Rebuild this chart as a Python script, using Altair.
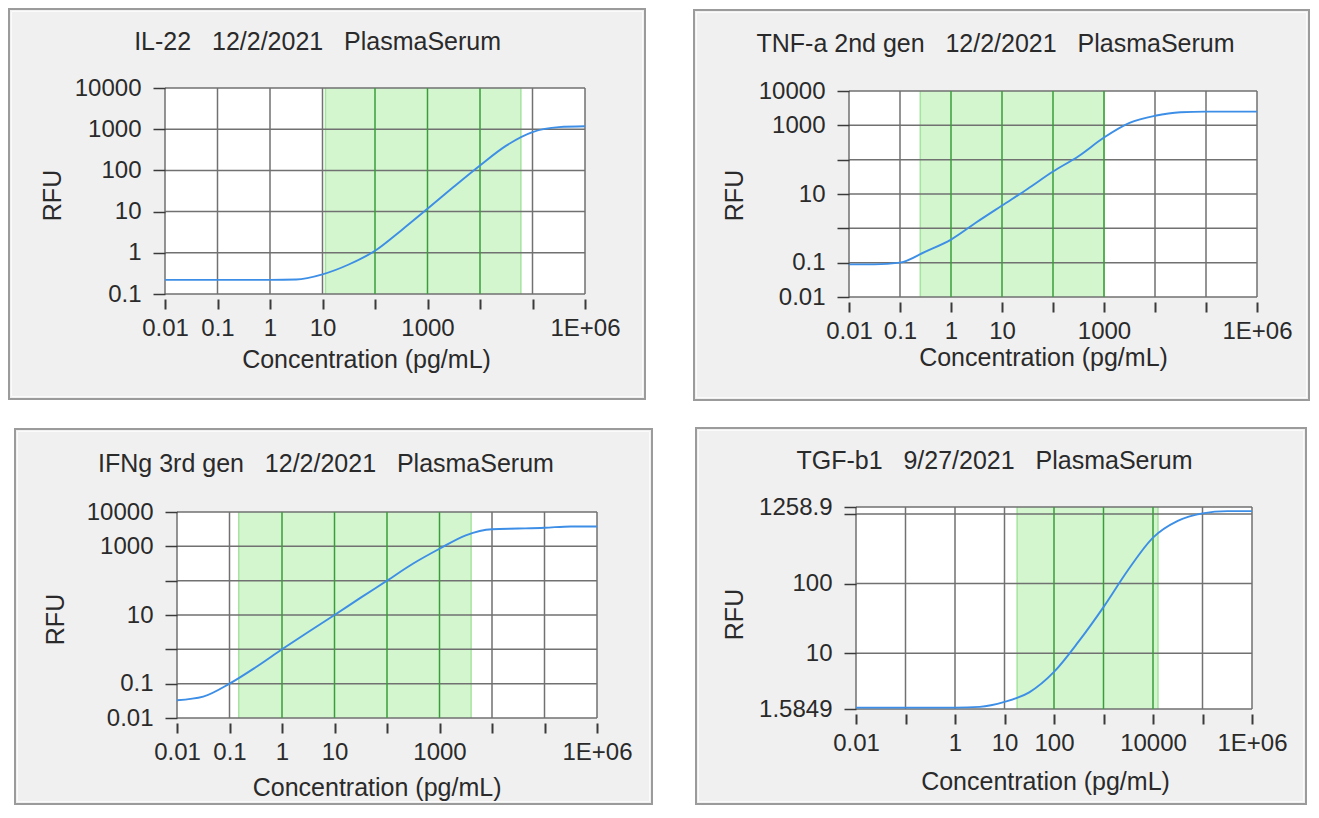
import altair as alt
import pandas as pd

# ---------------- data ----------------
X_TICKS = [0.01, 0.1, 1, 10, 100, 1000, 10000, 100000, 1000000]
CURVE_CONC = [0.01, 0.0316, 0.1, 0.316, 1, 3.16, 10, 31.6, 100, 316, 1000,
              3162, 10000, 31623, 100000, 316228, 1000000]

IL22_TITLE = "IL-22\u00a0\u00a0\u00a012/2/2021\u00a0\u00a0\u00a0PlasmaSerum"
IL22_X_LABELS = ["0.01", "0.1", "1", "10", "", "1000", "", "", "1E+06"]
IL22_Y_TICKS = [0.1, 1, 10, 100, 1000, 10000]
IL22_Y_LABELS = ["0.1", "1", "10", "100", "1000", "10000"]
IL22_GREEN = [11.4, 60000]
IL22_RFU = [0.22, 0.22, 0.22, 0.22, 0.22, 0.224, 0.30, 0.52, 1.12, 3.5, 11.7,
            40, 132, 400, 850, 1120, 1175]

TNF_TITLE = "TNF-a 2nd gen\u00a0\u00a0\u00a012/2/2021\u00a0\u00a0\u00a0PlasmaSerum"
TNF_X_LABELS = ["0.01", "0.1", "1", "10", "", "1000", "", "", "1E+06"]
TNF_Y_TICKS = [0.01, 0.1, 1, 10, 100, 1000, 10000]
TNF_Y_LABELS = ["0.01", "0.1", "", "10", "", "1000", "10000"]
TNF_GREEN = [0.25, 1000]
TNF_RFU = [0.089, 0.089, 0.1, 0.21, 0.47, 1.5, 4.6, 14, 45, 126, 440,
           1175, 1900, 2400, 2500, 2500, 2500]

IFN_TITLE = "IFNg 3rd gen\u00a0\u00a0\u00a012/2/2021\u00a0\u00a0\u00a0PlasmaSerum"
IFN_X_LABELS = ["0.01", "0.1", "1", "10", "", "1000", "", "", "1E+06"]
IFN_Y_TICKS = [0.01, 0.1, 1, 10, 100, 1000, 10000]
IFN_Y_LABELS = ["0.01", "0.1", "", "10", "", "1000", "10000"]
IFN_GREEN = [0.15, 4000]
IFN_RFU = [0.033, 0.042, 0.1, 0.30, 1.0, 3.2, 10, 32, 100, 316, 850,
           2100, 3160, 3300, 3470, 3800, 3800]

TGF_TITLE = "TGF-b1\u00a0\u00a0\u00a09/27/2021\u00a0\u00a0\u00a0PlasmaSerum"
TGF_X_LABELS = ["0.01", "", "1", "10", "100", "", "10000", "", "1E+06"]
TGF_Y_TICKS = [1.5849, 10, 100, 1000, 1258.9]
TGF_Y_LABELS = ["1.5849", "10", "100", "", "1258.9"]
TGF_GREEN = [18, 12600]
TGF_RFU = [1.66, 1.66, 1.66, 1.66, 1.66, 1.7, 2.0, 2.75, 5.4, 14.8, 46,
           158, 457, 795, 1020, 1100, 1100]

# ---------------- style / layout ----------------
FONT = "Liberation Sans"
TEXT = "#2a2a2a"
GRID = "#717171"
GRID_GREEN = "#3a9c3a"
EDGE_GREEN = "#a6e3a0"
FILL_GREEN = "#d3f6cf"
CURVE = "#3d8ee6"
PANEL_BG = "#f0f0f0"
PANEL_STROKE = "#9b9b9b"

LAYOUTS = [
    dict(w=432, h=209, xr=[0, 420], yr=[206, 0], frame=(-156, -79, 480, 311),
         title=(152.6, -46), xtitle=(201, 60), ytitle=(-113, 107), xoff=2, yoff=0),
    dict(w=408, h=209, xr=[0, 408], yr=[209, 3], frame=(-155, -78, 460, 312),
         title=(146.5, -44), xtitle=(194, 55), ytitle=(-115, 107), xoff=5, yoff=0),
    dict(w=432, h=211, xr=[12, 432], yr=[211, 5], frame=(-150, -78, 487, 297),
         title=(161, -43), xtitle=(211.6, 64), ytitle=(-122, 112), xoff=5, yoff=-12),
    dict(w=408, h=211, xr=[7, 403], yr=[202, 0], frame=(-153, -79, 457, 297),
         title=(145.5, -46), xtitle=(196, 67), ytitle=(-122, 107), xoff=-4, yoff=-7),
]


def label_expr(ticks, labels):
    s = "''"
    for v, l in reversed(list(zip(ticks, labels))):
        s = f"datum.value == {v} ? '{l}' : ({s})"
    return s


def panel(title, x_labels, y_ticks, y_labels, green, rfu, lay):
    xmin, xmax = X_TICKS[0], X_TICKS[-1]
    ymin, ymax = y_ticks[0], y_ticks[-1]
    xs = alt.Scale(type="log", domain=[xmin, xmax], range=lay["xr"], nice=False)
    ys = alt.Scale(type="log", domain=[ymin, ymax], range=lay["yr"], nice=False)

    xaxis = alt.Axis(
        values=X_TICKS, labelExpr=label_expr(X_TICKS, x_labels), grid=False,
        domain=False, tickSize=10, tickWidth=2, tickColor="#3a3a3a",
        labelFont=FONT, labelFontSize=24, labelColor=TEXT, labelPadding=7,
        labelOverlap=False, labelFlush=False, offset=lay["xoff"],
        title="Concentration (pg/mL)", titleFont=FONT, titleFontSize=25,
        titleFontWeight="normal", titleColor=TEXT, titleX=lay["xtitle"][0],
        titleY=lay["xtitle"][1], titleBaseline="middle", titleAlign="center",
        zindex=2)
    yaxis = alt.Axis(
        values=y_ticks, labelExpr=label_expr(y_ticks, y_labels), grid=False,
        domain=False, tickSize=12, tickWidth=1.5, tickColor="#3a3a3a",
        labelFont=FONT, labelFontSize=24, labelColor=TEXT, labelPadding=12,
        labelOverlap=False, labelFlush=False, offset=lay["yoff"],
        title="RFU", titleFont=FONT, titleFontSize=25, titleFontWeight="normal",
        titleColor=TEXT, titleX=lay["ytitle"][0], titleY=lay["ytitle"][1],
        titleAngle=270, titleBaseline="middle", titleAlign="center", zindex=2)

    def X(f):
        return alt.X(f, type="quantitative", scale=xs, axis=xaxis,
                     title="Concentration (pg/mL)")

    def Y(f):
        return alt.Y(f, type="quantitative", scale=ys, axis=yaxis, title="RFU")

    one = pd.DataFrame({"a": [0]})
    fx0, fy0, fx1, fy1 = lay["frame"]
    frame = alt.Chart(one).mark_rect(
        fill=PANEL_BG, stroke=PANEL_STROKE, strokeWidth=2
    ).encode(x=alt.value(fx0), x2=alt.value(fx1), y=alt.value(fy0), y2=alt.value(fy1))
    inner = alt.Chart(one).mark_rect(
        fill=None, stroke="#fbfbfb", strokeWidth=1
    ).encode(x=alt.value(fx0 + 2.5), x2=alt.value(fx1 - 2.5),
             y=alt.value(fy0 + 2.5), y2=alt.value(fy1 - 2.5))

    box = pd.DataFrame({"x0": [xmin], "x1": [xmax], "y0": [ymin], "y1": [ymax]})
    plotbg = alt.Chart(box).mark_rect(fill="white").encode(
        x=X("x0"), x2="x1:Q", y=Y("y0"), y2="y1:Q")

    gdf = pd.DataFrame({"x0": [green[0]], "x1": [green[1]], "y0": [ymin], "y1": [ymax]})
    gband = alt.Chart(gdf).mark_rect(fill=FILL_GREEN).encode(
        x=X("x0"), x2="x1:Q", y=Y("y0"), y2="y1:Q")

    edf = pd.DataFrame({"x": list(green), "y0": [ymin, ymin], "y1": [ymax, ymax]})
    edges = alt.Chart(edf).mark_rule(color=EDGE_GREEN, strokeWidth=1.5).encode(
        x=X("x"), y=Y("y0"), y2="y1:Q")

    hdf = pd.DataFrame({"y": y_ticks, "x0": [xmin] * len(y_ticks), "x1": [xmax] * len(y_ticks)})
    hgrid = alt.Chart(hdf).mark_rule(color=GRID, strokeWidth=1.5).encode(
        x=X("x0"), x2="x1:Q", y=Y("y"))

    cols = [GRID_GREEN if green[0] <= v <= green[1] * 1.01 else GRID for v in X_TICKS]
    vdf = pd.DataFrame({"x": X_TICKS, "y0": [ymin] * len(X_TICKS),
                        "y1": [ymax] * len(X_TICKS), "c": cols})
    vgrid = alt.Chart(vdf).mark_rule(strokeWidth=1.5).encode(
        x=X("x"), y=Y("y0"), y2="y1:Q", color=alt.Color("c:N", scale=None))

    cdf = pd.DataFrame({"conc": CURVE_CONC, "rfu": rfu})
    curve = alt.Chart(cdf).mark_line(
        color=CURVE, strokeWidth=1.9, interpolate="monotone"
    ).encode(x=X("conc"), y=Y("rfu"))

    ttl = alt.Chart(one).mark_text(
        text=title, font=FONT, fontSize=25, color=TEXT, baseline="middle", align="center"
    ).encode(x=alt.value(lay["title"][0]), y=alt.value(lay["title"][1]))

    return alt.layer(frame, inner, plotbg, gband, edges, hgrid, vgrid, curve, ttl).properties(
        width=lay["w"], height=lay["h"])


p1 = panel(IL22_TITLE, IL22_X_LABELS, IL22_Y_TICKS, IL22_Y_LABELS, IL22_GREEN, IL22_RFU, LAYOUTS[0])
p2 = panel(TNF_TITLE, TNF_X_LABELS, TNF_Y_TICKS, TNF_Y_LABELS, TNF_GREEN, TNF_RFU, LAYOUTS[1])
p3 = panel(IFN_TITLE, IFN_X_LABELS, IFN_Y_TICKS, IFN_Y_LABELS, IFN_GREEN, IFN_RFU, LAYOUTS[2])
p4 = panel(TGF_TITLE, TGF_X_LABELS, TGF_Y_TICKS, TGF_Y_LABELS, TGF_GREEN, TGF_RFU, LAYOUTS[3])

chart = alt.concat(
    p1, p2, p3, p4, columns=2, spacing={"row": 208, "column": 252},
    bounds="flush", align="all"
).configure_view(stroke=None).properties(padding=0, background="white")

chart.save("out.html", embed_options={"renderer": "svg", "actions": False})
